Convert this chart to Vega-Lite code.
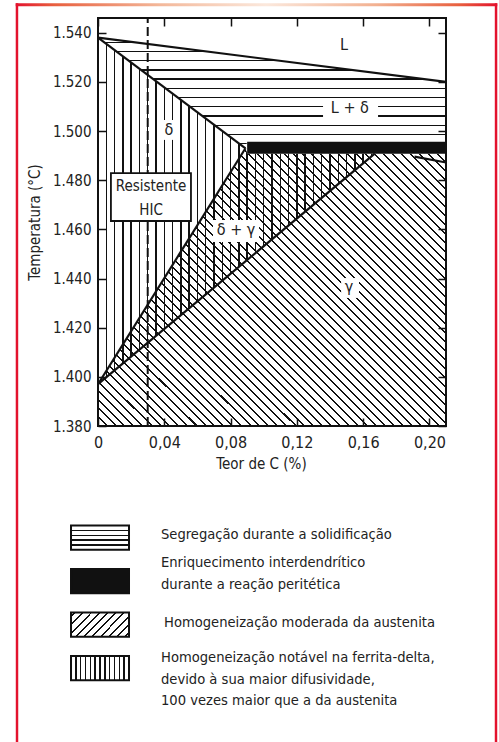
{
"$schema": "https://vega.github.io/schema/vega-lite/v6.json",
"background": "white",
"padding": {"left": 15, "top": 3, "right": 0, "bottom": 0},
"spacing": 0,
"config": {
  "font": "Liberation Sans Narrow, DejaVu Sans Condensed, Roboto Condensed, Roboto, sans-serif",
  "view": {"stroke": null},
  "axis": {"labelFontSize": 15, "labelColor": "#222", "titleFontSize": 15, "titleFontWeight": "normal", "titleColor": "#222"}
},
"datasets": {
  "areaA": [{"c":0,"t":1538,"b":1397},{"c":0.089,"t":1493,"b":1447},{"c":0.09,"t":1490.8,"b":1447.6},{"c":0.167,"t":1490.8,"b":1490.8}],
  "areaB": [{"c":0,"t":1397,"b":1380},{"c":0.089,"t":1493,"b":1380},{"c":0.09,"t":1490.8,"b":1380},{"c":0.21,"t":1490.8,"b":1380}],
  "areaC": [{"c":0,"t":1538,"b":1538},{"c":0.089,"t":1530.4,"b":1493},{"c":0.09,"t":1530.3,"b":1495.6},{"c":0.21,"t":1520,"b":1495.6}],
  "band": [{"c":0.09,"c2":0.21,"t":1490.8,"t2":1495.6}],
  "lines": [
    {"seg":"liq","c":0,"t":1538},{"seg":"liq","c":0.21,"t":1520},
    {"seg":"sol","c":0,"t":1538},{"seg":"sol","c":0.089,"t":1493},
    {"seg":"solv","c":0,"t":1397},{"seg":"solv","c":0.089,"t":1493},
    {"seg":"gam","c":0,"t":1397},{"seg":"gam","c":0.167,"t":1490.8},
    {"seg":"tail","c":0.191,"t":1489.6},{"seg":"tail","c":0.21,"t":1487.2}
  ],
  "dash": [{"c":0.03,"t":1380,"t2":1546}],
  "hic": [{"c":0.0078,"c2":0.0561,"t":1463.4,"t2":1482.9}],
  "hicText": [{"label":"Resistente","c":0.032,"t":1477.6},{"label":"HIC","c":0.032,"t":1467.9}],
  "labelBoxes": [
    {"c":0.1358,"c2":0.169,"t":1505.3,"t2":1513.4},
    {"c":0.038,"c2":0.048,"t":1496.4,"t2":1504.5},
    {"c":0.0694,"c2":0.0972,"t":1454.9,"t2":1463.8},
    {"c":0.1467,"c2":0.1575,"t":1432.1,"t2":1440.2}
  ],
  "labels": [
    {"label":"L","c":0.1485,"t":1535},
    {"label":"L + δ","c":0.152,"t":1509.4},
    {"label":"δ","c":0.0428,"t":1500.4},
    {"label":"δ + γ","c":0.0833,"t":1459.7},
    {"label":"γ","c":0.1515,"t":1436.5}
  ],
  "frame": [{"c":0,"c2":0.21,"t":1380,"t2":1546}],
  "redSides": [{"c":-0.04965,"c2":-0.04815,"t":1552.0,"t2":1349.9},{"c":0.23945,"c2":0.24095,"t":1552.0,"t2":1349.9}],
  "redTop": [{"c":-0.04965,"c2":0.24095,"t":1552.0,"t2":1550.8}],
  "legend": [
    {"item":1,"label":"Segregação durante a solidificação"},
    {"item":2,"label":"Enriquecimento interdendrítico\ndurante a reação peritética"},
    {"item":3,"label":"Homogeneização moderada da austenita"},
    {"item":4,"label":"Homogeneização notável na ferrita-delta,\ndevido à sua maior difusividade,\n100 vezes maior que a da austenita"}
  ]
},
"vconcat": [
{
  "width": 348,
  "height": 408,
  "encoding": {
    "x": {"field":"c","type":"quantitative","scale":{"domain":[0,0.21],"nice":false,"zero":false},
      "axis": {"values":[0,0.04,0.08,0.12,0.16,0.2],"labelExpr":"datum.value == 0 ? '0' : replace(format(datum.value, '.2f'), '.', ',')","title":"Teor de C (%)","titleX":163,"labelFontSize":16,"domain":false,"ticks":false,"grid":true,"gridDash":[8,392],"gridColor":"#111","gridWidth":1.5,"gridOpacity":1,"labelPadding":8,"titlePadding":6,"labelFlush":false,"labelOverlap":false,"zindex":2}},
    "y": {"field":"t","type":"quantitative","scale":{"domain":[1380,1546],"nice":false,"zero":false},
      "axis": {"values":[1380,1400,1420,1440,1460,1480,1500,1520,1540],"labelExpr":"replace(format(datum.value, ','), ',', '.')","title":"Temperatura (°C)","domain":false,"ticks":false,"grid":true,"gridDash":[8,332],"gridColor":"#111","gridWidth":1.5,"gridOpacity":1,"labelPadding":7,"titlePadding":10,"labelFlush":false,"labelOverlap":false,"zindex":2}}
  },
  "layer": [
    {"data":{"name":"areaA"},
     "mark":{"type":"area","fill":{"gradient":"linear","x1":0,"y1":0,"x2":1,"y2":0,"stops":[
      {"offset":0,"color":"#fff"},
      {"offset":0.0274,"color":"#fff"},{"offset":0.0274,"color":"#111"},{"offset":0.0324,"color":"#111"},{"offset":0.0324,"color":"#fff"},
      {"offset":0.0574,"color":"#fff"},{"offset":0.0574,"color":"#111"},{"offset":0.0624,"color":"#111"},{"offset":0.0624,"color":"#fff"},
      {"offset":0.0873,"color":"#fff"},{"offset":0.0873,"color":"#111"},{"offset":0.0923,"color":"#111"},{"offset":0.0923,"color":"#fff"},
      {"offset":0.1173,"color":"#fff"},{"offset":0.1173,"color":"#111"},{"offset":0.1223,"color":"#111"},{"offset":0.1223,"color":"#fff"},
      {"offset":0.1472,"color":"#fff"},{"offset":0.1472,"color":"#111"},{"offset":0.1522,"color":"#111"},{"offset":0.1522,"color":"#fff"},
      {"offset":0.1771,"color":"#fff"},{"offset":0.1771,"color":"#111"},{"offset":0.1821,"color":"#111"},{"offset":0.1821,"color":"#fff"},
      {"offset":0.2071,"color":"#fff"},{"offset":0.2071,"color":"#111"},{"offset":0.2121,"color":"#111"},{"offset":0.2121,"color":"#fff"},
      {"offset":0.2370,"color":"#fff"},{"offset":0.2370,"color":"#111"},{"offset":0.2420,"color":"#111"},{"offset":0.2420,"color":"#fff"},
      {"offset":0.2670,"color":"#fff"},{"offset":0.2670,"color":"#111"},{"offset":0.2720,"color":"#111"},{"offset":0.2720,"color":"#fff"},
      {"offset":0.2969,"color":"#fff"},{"offset":0.2969,"color":"#111"},{"offset":0.3019,"color":"#111"},{"offset":0.3019,"color":"#fff"},
      {"offset":0.3268,"color":"#fff"},{"offset":0.3268,"color":"#111"},{"offset":0.3318,"color":"#111"},{"offset":0.3318,"color":"#fff"},
      {"offset":0.3568,"color":"#fff"},{"offset":0.3568,"color":"#111"},{"offset":0.3618,"color":"#111"},{"offset":0.3618,"color":"#fff"},
      {"offset":0.3867,"color":"#fff"},{"offset":0.3867,"color":"#111"},{"offset":0.3917,"color":"#111"},{"offset":0.3917,"color":"#fff"},
      {"offset":0.4167,"color":"#fff"},{"offset":0.4167,"color":"#111"},{"offset":0.4217,"color":"#111"},{"offset":0.4217,"color":"#fff"},
      {"offset":0.4466,"color":"#fff"},{"offset":0.4466,"color":"#111"},{"offset":0.4516,"color":"#111"},{"offset":0.4516,"color":"#fff"},
      {"offset":0.4765,"color":"#fff"},{"offset":0.4765,"color":"#111"},{"offset":0.4815,"color":"#111"},{"offset":0.4815,"color":"#fff"},
      {"offset":0.5065,"color":"#fff"},{"offset":0.5065,"color":"#111"},{"offset":0.5115,"color":"#111"},{"offset":0.5115,"color":"#fff"},
      {"offset":0.5364,"color":"#fff"},{"offset":0.5364,"color":"#111"},{"offset":0.5414,"color":"#111"},{"offset":0.5414,"color":"#fff"},
      {"offset":0.5664,"color":"#fff"},{"offset":0.5664,"color":"#111"},{"offset":0.5714,"color":"#111"},{"offset":0.5714,"color":"#fff"},
      {"offset":0.5963,"color":"#fff"},{"offset":0.5963,"color":"#111"},{"offset":0.6013,"color":"#111"},{"offset":0.6013,"color":"#fff"},
      {"offset":0.6262,"color":"#fff"},{"offset":0.6262,"color":"#111"},{"offset":0.6312,"color":"#111"},{"offset":0.6312,"color":"#fff"},
      {"offset":0.6562,"color":"#fff"},{"offset":0.6562,"color":"#111"},{"offset":0.6612,"color":"#111"},{"offset":0.6612,"color":"#fff"},
      {"offset":0.6861,"color":"#fff"},{"offset":0.6861,"color":"#111"},{"offset":0.6911,"color":"#111"},{"offset":0.6911,"color":"#fff"},
      {"offset":0.7161,"color":"#fff"},{"offset":0.7161,"color":"#111"},{"offset":0.7211,"color":"#111"},{"offset":0.7211,"color":"#fff"},
      {"offset":0.7460,"color":"#fff"},{"offset":0.7460,"color":"#111"},{"offset":0.7510,"color":"#111"},{"offset":0.7510,"color":"#fff"},
      {"offset":0.7759,"color":"#fff"},{"offset":0.7759,"color":"#111"},{"offset":0.7809,"color":"#111"},{"offset":0.7809,"color":"#fff"},
      {"offset":0.8059,"color":"#fff"},{"offset":0.8059,"color":"#111"},{"offset":0.8109,"color":"#111"},{"offset":0.8109,"color":"#fff"},
      {"offset":0.8358,"color":"#fff"},{"offset":0.8358,"color":"#111"},{"offset":0.8408,"color":"#111"},{"offset":0.8408,"color":"#fff"},
      {"offset":0.8658,"color":"#fff"},{"offset":0.8658,"color":"#111"},{"offset":0.8708,"color":"#111"},{"offset":0.8708,"color":"#fff"},
      {"offset":0.8957,"color":"#fff"},{"offset":0.8957,"color":"#111"},{"offset":0.9007,"color":"#111"},{"offset":0.9007,"color":"#fff"},
      {"offset":0.9256,"color":"#fff"},{"offset":0.9256,"color":"#111"},{"offset":0.9306,"color":"#111"},{"offset":0.9306,"color":"#fff"},
      {"offset":0.9556,"color":"#fff"},{"offset":0.9556,"color":"#111"},{"offset":0.9606,"color":"#111"},{"offset":0.9606,"color":"#fff"},
      {"offset":0.9855,"color":"#fff"},{"offset":0.9855,"color":"#111"},{"offset":0.9905,"color":"#111"},{"offset":0.9905,"color":"#fff"},
      {"offset":1,"color":"#fff"}]}},
     "encoding":{"y2":{"field":"b"}}},
    {"data":{"name":"areaB"},
     "mark":{"type":"area","fill":{"gradient":"linear","x1":0,"y1":1,"x2":1.0983,"y2":0.1232,"stops":[
      {"offset":0,"color":"transparent"},
      {"offset":0.0128,"color":"transparent"},{"offset":0.0128,"color":"#111"},{"offset":0.0160,"color":"#111"},{"offset":0.0160,"color":"transparent"},
      {"offset":0.0272,"color":"transparent"},{"offset":0.0272,"color":"#111"},{"offset":0.0304,"color":"#111"},{"offset":0.0304,"color":"transparent"},
      {"offset":0.0415,"color":"transparent"},{"offset":0.0415,"color":"#111"},{"offset":0.0447,"color":"#111"},{"offset":0.0447,"color":"transparent"},
      {"offset":0.0559,"color":"transparent"},{"offset":0.0559,"color":"#111"},{"offset":0.0591,"color":"#111"},{"offset":0.0591,"color":"transparent"},
      {"offset":0.0703,"color":"transparent"},{"offset":0.0703,"color":"#111"},{"offset":0.0735,"color":"#111"},{"offset":0.0735,"color":"transparent"},
      {"offset":0.0847,"color":"transparent"},{"offset":0.0847,"color":"#111"},{"offset":0.0879,"color":"#111"},{"offset":0.0879,"color":"transparent"},
      {"offset":0.0991,"color":"transparent"},{"offset":0.0991,"color":"#111"},{"offset":0.1023,"color":"#111"},{"offset":0.1023,"color":"transparent"},
      {"offset":0.1134,"color":"transparent"},{"offset":0.1134,"color":"#111"},{"offset":0.1166,"color":"#111"},{"offset":0.1166,"color":"transparent"},
      {"offset":0.1278,"color":"transparent"},{"offset":0.1278,"color":"#111"},{"offset":0.1310,"color":"#111"},{"offset":0.1310,"color":"transparent"},
      {"offset":0.1422,"color":"transparent"},{"offset":0.1422,"color":"#111"},{"offset":0.1454,"color":"#111"},{"offset":0.1454,"color":"transparent"},
      {"offset":0.1566,"color":"transparent"},{"offset":0.1566,"color":"#111"},{"offset":0.1598,"color":"#111"},{"offset":0.1598,"color":"transparent"},
      {"offset":0.1710,"color":"transparent"},{"offset":0.1710,"color":"#111"},{"offset":0.1742,"color":"#111"},{"offset":0.1742,"color":"transparent"},
      {"offset":0.1853,"color":"transparent"},{"offset":0.1853,"color":"#111"},{"offset":0.1885,"color":"#111"},{"offset":0.1885,"color":"transparent"},
      {"offset":0.1997,"color":"transparent"},{"offset":0.1997,"color":"#111"},{"offset":0.2029,"color":"#111"},{"offset":0.2029,"color":"transparent"},
      {"offset":0.2141,"color":"transparent"},{"offset":0.2141,"color":"#111"},{"offset":0.2173,"color":"#111"},{"offset":0.2173,"color":"transparent"},
      {"offset":0.2285,"color":"transparent"},{"offset":0.2285,"color":"#111"},{"offset":0.2317,"color":"#111"},{"offset":0.2317,"color":"transparent"},
      {"offset":0.2429,"color":"transparent"},{"offset":0.2429,"color":"#111"},{"offset":0.2461,"color":"#111"},{"offset":0.2461,"color":"transparent"},
      {"offset":0.2572,"color":"transparent"},{"offset":0.2572,"color":"#111"},{"offset":0.2604,"color":"#111"},{"offset":0.2604,"color":"transparent"},
      {"offset":0.2716,"color":"transparent"},{"offset":0.2716,"color":"#111"},{"offset":0.2748,"color":"#111"},{"offset":0.2748,"color":"transparent"},
      {"offset":0.2860,"color":"transparent"},{"offset":0.2860,"color":"#111"},{"offset":0.2892,"color":"#111"},{"offset":0.2892,"color":"transparent"},
      {"offset":0.3004,"color":"transparent"},{"offset":0.3004,"color":"#111"},{"offset":0.3036,"color":"#111"},{"offset":0.3036,"color":"transparent"},
      {"offset":0.3148,"color":"transparent"},{"offset":0.3148,"color":"#111"},{"offset":0.3180,"color":"#111"},{"offset":0.3180,"color":"transparent"},
      {"offset":0.3291,"color":"transparent"},{"offset":0.3291,"color":"#111"},{"offset":0.3323,"color":"#111"},{"offset":0.3323,"color":"transparent"},
      {"offset":0.3435,"color":"transparent"},{"offset":0.3435,"color":"#111"},{"offset":0.3467,"color":"#111"},{"offset":0.3467,"color":"transparent"},
      {"offset":0.3579,"color":"transparent"},{"offset":0.3579,"color":"#111"},{"offset":0.3611,"color":"#111"},{"offset":0.3611,"color":"transparent"},
      {"offset":0.3723,"color":"transparent"},{"offset":0.3723,"color":"#111"},{"offset":0.3755,"color":"#111"},{"offset":0.3755,"color":"transparent"},
      {"offset":0.3867,"color":"transparent"},{"offset":0.3867,"color":"#111"},{"offset":0.3899,"color":"#111"},{"offset":0.3899,"color":"transparent"},
      {"offset":0.4010,"color":"transparent"},{"offset":0.4010,"color":"#111"},{"offset":0.4042,"color":"#111"},{"offset":0.4042,"color":"transparent"},
      {"offset":0.4154,"color":"transparent"},{"offset":0.4154,"color":"#111"},{"offset":0.4186,"color":"#111"},{"offset":0.4186,"color":"transparent"},
      {"offset":0.4298,"color":"transparent"},{"offset":0.4298,"color":"#111"},{"offset":0.4330,"color":"#111"},{"offset":0.4330,"color":"transparent"},
      {"offset":0.4442,"color":"transparent"},{"offset":0.4442,"color":"#111"},{"offset":0.4474,"color":"#111"},{"offset":0.4474,"color":"transparent"},
      {"offset":0.4586,"color":"transparent"},{"offset":0.4586,"color":"#111"},{"offset":0.4618,"color":"#111"},{"offset":0.4618,"color":"transparent"},
      {"offset":0.4729,"color":"transparent"},{"offset":0.4729,"color":"#111"},{"offset":0.4761,"color":"#111"},{"offset":0.4761,"color":"transparent"},
      {"offset":0.4873,"color":"transparent"},{"offset":0.4873,"color":"#111"},{"offset":0.4905,"color":"#111"},{"offset":0.4905,"color":"transparent"},
      {"offset":0.5017,"color":"transparent"},{"offset":0.5017,"color":"#111"},{"offset":0.5049,"color":"#111"},{"offset":0.5049,"color":"transparent"},
      {"offset":0.5161,"color":"transparent"},{"offset":0.5161,"color":"#111"},{"offset":0.5193,"color":"#111"},{"offset":0.5193,"color":"transparent"},
      {"offset":0.5305,"color":"transparent"},{"offset":0.5305,"color":"#111"},{"offset":0.5337,"color":"#111"},{"offset":0.5337,"color":"transparent"},
      {"offset":0.5448,"color":"transparent"},{"offset":0.5448,"color":"#111"},{"offset":0.5480,"color":"#111"},{"offset":0.5480,"color":"transparent"},
      {"offset":0.5592,"color":"transparent"},{"offset":0.5592,"color":"#111"},{"offset":0.5624,"color":"#111"},{"offset":0.5624,"color":"transparent"},
      {"offset":0.5736,"color":"transparent"},{"offset":0.5736,"color":"#111"},{"offset":0.5768,"color":"#111"},{"offset":0.5768,"color":"transparent"},
      {"offset":0.5880,"color":"transparent"},{"offset":0.5880,"color":"#111"},{"offset":0.5912,"color":"#111"},{"offset":0.5912,"color":"transparent"},
      {"offset":0.6024,"color":"transparent"},{"offset":0.6024,"color":"#111"},{"offset":0.6056,"color":"#111"},{"offset":0.6056,"color":"transparent"},
      {"offset":0.6167,"color":"transparent"},{"offset":0.6167,"color":"#111"},{"offset":0.6199,"color":"#111"},{"offset":0.6199,"color":"transparent"},
      {"offset":0.6311,"color":"transparent"},{"offset":0.6311,"color":"#111"},{"offset":0.6343,"color":"#111"},{"offset":0.6343,"color":"transparent"},
      {"offset":0.6455,"color":"transparent"},{"offset":0.6455,"color":"#111"},{"offset":0.6487,"color":"#111"},{"offset":0.6487,"color":"transparent"},
      {"offset":0.6599,"color":"transparent"},{"offset":0.6599,"color":"#111"},{"offset":0.6631,"color":"#111"},{"offset":0.6631,"color":"transparent"},
      {"offset":0.6743,"color":"transparent"},{"offset":0.6743,"color":"#111"},{"offset":0.6775,"color":"#111"},{"offset":0.6775,"color":"transparent"},
      {"offset":0.6886,"color":"transparent"},{"offset":0.6886,"color":"#111"},{"offset":0.6918,"color":"#111"},{"offset":0.6918,"color":"transparent"},
      {"offset":0.7030,"color":"transparent"},{"offset":0.7030,"color":"#111"},{"offset":0.7062,"color":"#111"},{"offset":0.7062,"color":"transparent"},
      {"offset":0.7174,"color":"transparent"},{"offset":0.7174,"color":"#111"},{"offset":0.7206,"color":"#111"},{"offset":0.7206,"color":"transparent"},
      {"offset":0.7318,"color":"transparent"},{"offset":0.7318,"color":"#111"},{"offset":0.7350,"color":"#111"},{"offset":0.7350,"color":"transparent"},
      {"offset":0.7462,"color":"transparent"},{"offset":0.7462,"color":"#111"},{"offset":0.7494,"color":"#111"},{"offset":0.7494,"color":"transparent"},
      {"offset":0.7605,"color":"transparent"},{"offset":0.7605,"color":"#111"},{"offset":0.7637,"color":"#111"},{"offset":0.7637,"color":"transparent"},
      {"offset":0.7749,"color":"transparent"},{"offset":0.7749,"color":"#111"},{"offset":0.7781,"color":"#111"},{"offset":0.7781,"color":"transparent"},
      {"offset":0.7893,"color":"transparent"},{"offset":0.7893,"color":"#111"},{"offset":0.7925,"color":"#111"},{"offset":0.7925,"color":"transparent"},
      {"offset":0.8037,"color":"transparent"},{"offset":0.8037,"color":"#111"},{"offset":0.8069,"color":"#111"},{"offset":0.8069,"color":"transparent"},
      {"offset":0.8181,"color":"transparent"},{"offset":0.8181,"color":"#111"},{"offset":0.8213,"color":"#111"},{"offset":0.8213,"color":"transparent"},
      {"offset":0.8324,"color":"transparent"},{"offset":0.8324,"color":"#111"},{"offset":0.8356,"color":"#111"},{"offset":0.8356,"color":"transparent"},
      {"offset":0.8468,"color":"transparent"},{"offset":0.8468,"color":"#111"},{"offset":0.8500,"color":"#111"},{"offset":0.8500,"color":"transparent"},
      {"offset":0.8612,"color":"transparent"},{"offset":0.8612,"color":"#111"},{"offset":0.8644,"color":"#111"},{"offset":0.8644,"color":"transparent"},
      {"offset":0.8756,"color":"transparent"},{"offset":0.8756,"color":"#111"},{"offset":0.8788,"color":"#111"},{"offset":0.8788,"color":"transparent"},
      {"offset":0.8900,"color":"transparent"},{"offset":0.8900,"color":"#111"},{"offset":0.8932,"color":"#111"},{"offset":0.8932,"color":"transparent"},
      {"offset":0.9043,"color":"transparent"},{"offset":0.9043,"color":"#111"},{"offset":0.9075,"color":"#111"},{"offset":0.9075,"color":"transparent"},
      {"offset":0.9187,"color":"transparent"},{"offset":0.9187,"color":"#111"},{"offset":0.9219,"color":"#111"},{"offset":0.9219,"color":"transparent"},
      {"offset":0.9331,"color":"transparent"},{"offset":0.9331,"color":"#111"},{"offset":0.9363,"color":"#111"},{"offset":0.9363,"color":"transparent"},
      {"offset":0.9475,"color":"transparent"},{"offset":0.9475,"color":"#111"},{"offset":0.9507,"color":"#111"},{"offset":0.9507,"color":"transparent"},
      {"offset":0.9619,"color":"transparent"},{"offset":0.9619,"color":"#111"},{"offset":0.9651,"color":"#111"},{"offset":0.9651,"color":"transparent"},
      {"offset":0.9762,"color":"transparent"},{"offset":0.9762,"color":"#111"},{"offset":0.9794,"color":"#111"},{"offset":0.9794,"color":"transparent"},
      {"offset":0.9906,"color":"transparent"},{"offset":0.9906,"color":"#111"},{"offset":0.9938,"color":"#111"},{"offset":0.9938,"color":"transparent"},
      {"offset":1,"color":"transparent"}]}},
     "encoding":{"y2":{"field":"b"}}},
    {"data":{"name":"areaC"},
     "mark":{"type":"area","fill":{"gradient":"linear","x1":0,"y1":0,"x2":0,"y2":1,"stops":[
      {"offset":0,"color":"#fff"},
      {"offset":0.0357,"color":"#fff"},{"offset":0.0357,"color":"#111"},{"offset":0.0477,"color":"#111"},{"offset":0.0477,"color":"#fff"},
      {"offset":0.1190,"color":"#fff"},{"offset":0.1190,"color":"#111"},{"offset":0.1310,"color":"#111"},{"offset":0.1310,"color":"#fff"},
      {"offset":0.2023,"color":"#fff"},{"offset":0.2023,"color":"#111"},{"offset":0.2143,"color":"#111"},{"offset":0.2143,"color":"#fff"},
      {"offset":0.2857,"color":"#fff"},{"offset":0.2857,"color":"#111"},{"offset":0.2977,"color":"#111"},{"offset":0.2977,"color":"#fff"},
      {"offset":0.3690,"color":"#fff"},{"offset":0.3690,"color":"#111"},{"offset":0.3810,"color":"#111"},{"offset":0.3810,"color":"#fff"},
      {"offset":0.4523,"color":"#fff"},{"offset":0.4523,"color":"#111"},{"offset":0.4643,"color":"#111"},{"offset":0.4643,"color":"#fff"},
      {"offset":0.5357,"color":"#fff"},{"offset":0.5357,"color":"#111"},{"offset":0.5477,"color":"#111"},{"offset":0.5477,"color":"#fff"},
      {"offset":0.6190,"color":"#fff"},{"offset":0.6190,"color":"#111"},{"offset":0.6310,"color":"#111"},{"offset":0.6310,"color":"#fff"},
      {"offset":0.7023,"color":"#fff"},{"offset":0.7023,"color":"#111"},{"offset":0.7143,"color":"#111"},{"offset":0.7143,"color":"#fff"},
      {"offset":0.7857,"color":"#fff"},{"offset":0.7857,"color":"#111"},{"offset":0.7977,"color":"#111"},{"offset":0.7977,"color":"#fff"},
      {"offset":0.8690,"color":"#fff"},{"offset":0.8690,"color":"#111"},{"offset":0.8810,"color":"#111"},{"offset":0.8810,"color":"#fff"},
      {"offset":0.9523,"color":"#fff"},{"offset":0.9523,"color":"#111"},{"offset":0.9643,"color":"#111"},{"offset":0.9643,"color":"#fff"},
      {"offset":1,"color":"#fff"}]}},
     "encoding":{"y2":{"field":"b"}}},
    {"data":{"name":"band"},"mark":{"type":"rect","fill":"#111"},"encoding":{"x2":{"field":"c2"},"y2":{"field":"t2"}}},
    {"data":{"name":"lines"},"mark":{"type":"line","stroke":"#111","strokeWidth":2.2},"encoding":{"detail":{"field":"seg"}}},
    {"data":{"name":"dash"},"mark":{"type":"rule","stroke":"#111","strokeWidth":2,"strokeDash":[9,4]},"encoding":{"y2":{"field":"t2"}}},
    {"data":{"name":"labelBoxes"},"mark":{"type":"rect","fill":"#fff"},"encoding":{"x2":{"field":"c2"},"y2":{"field":"t2"}}},
    {"data":{"name":"labels"},"mark":{"type":"text","fontSize":16,"fill":"#222"},"encoding":{"text":{"field":"label"}}},
    {"data":{"name":"hic"},"mark":{"type":"rect","fill":"#fff","stroke":"#111","strokeWidth":1.8},"encoding":{"x2":{"field":"c2"},"y2":{"field":"t2"}}},
    {"data":{"name":"hicText"},"mark":{"type":"text","fontSize":15,"fill":"#222"},"encoding":{"text":{"field":"label"}}},
    {"data":{"name":"frame"},"mark":{"type":"rect","filled":false,"stroke":"#111","strokeWidth":2},"encoding":{"x2":{"field":"c2"},"y2":{"field":"t2"}}},
    {"data":{"name":"redSides"},"mark":{"type":"rect","fill":"#e3122d"},"encoding":{"x2":{"field":"c2"},"y2":{"field":"t2"}}},
    {"data":{"name":"redTop"},"mark":{"type":"rect","fill":{"gradient":"linear","x1":0,"y1":0,"x2":1,"y2":0,"stops":[
      {"offset":0,"color":"#e3122d"},{"offset":0.08,"color":"#e8603f"},{"offset":0.3,"color":"#f3b89a"},{"offset":0.52,"color":"#fbe8dc"},{"offset":0.75,"color":"#f2b090"},{"offset":0.92,"color":"#e8603f"},{"offset":1,"color":"#e3122d"}]}},
     "encoding":{"x2":{"field":"c2"},"y2":{"field":"t2"}}}
  ]
},
{
  "width": 398,
  "height": 242,
  "data": {"name": "legend"},
  "layer": [
    {"data":{"values":[{}]},"mark":{"type":"rect","fill":"#e3122d"},
     "encoding":{"x":{"datum":-20.66,"type":"quantitative","scale":{"domain":[0,100],"nice":false,"zero":false},"axis":null},"x2":{"datum":-20.04}}},
    {"data":{"values":[{}]},"mark":{"type":"rect","fill":"#e3122d"},
     "encoding":{"x":{"datum":99.69,"type":"quantitative","scale":{"domain":[0,100],"nice":false,"zero":false},"axis":null},"x2":{"datum":100.31}}},
    {"transform":[{"filter":"datum.item == 1"}],
     "mark":{"type":"rect","stroke":"#111","strokeWidth":2,"fill":{"gradient":"linear","x1":0,"y1":0,"x2":0,"y2":1,"stops":[
      {"offset":0,"color":"#fff"},
      {"offset":0.175,"color":"#fff"},{"offset":0.175,"color":"#111"},{"offset":0.225,"color":"#111"},{"offset":0.225,"color":"#fff"},
      {"offset":0.375,"color":"#fff"},{"offset":0.375,"color":"#111"},{"offset":0.425,"color":"#111"},{"offset":0.425,"color":"#fff"},
      {"offset":0.575,"color":"#fff"},{"offset":0.575,"color":"#111"},{"offset":0.625,"color":"#111"},{"offset":0.625,"color":"#fff"},
      {"offset":0.775,"color":"#fff"},{"offset":0.775,"color":"#111"},{"offset":0.825,"color":"#111"},{"offset":0.825,"color":"#fff"},
      {"offset":1,"color":"#fff"}]}},
     "encoding":{"y":{"field":"item","type":"ordinal","axis":null,"scale":{"paddingInner":0.44,"paddingOuter":1.034,"align":0.292}},
                 "x":{"datum":-6.78,"type":"quantitative","scale":{"domain":[0,100],"nice":false,"zero":false},"axis":null},"x2":{"datum":7.79}}},
    {"transform":[{"filter":"datum.item == 2"}],
     "mark":{"type":"rect","stroke":"#111","strokeWidth":2,"fill":"#111"},
     "encoding":{"y":{"field":"item","type":"ordinal","axis":null,"scale":{"paddingInner":0.44,"paddingOuter":1.034,"align":0.292}},
                 "x":{"datum":-6.78,"type":"quantitative","scale":{"domain":[0,100],"nice":false,"zero":false},"axis":null},"x2":{"datum":7.79}}},
    {"transform":[{"filter":"datum.item == 3"}],
     "mark":{"type":"rect","stroke":"#111","strokeWidth":2,"fill":{"gradient":"linear","x1":0,"y1":0,"x2":1.2071,"y2":0.4995,"stops":[
      {"offset":0,"color":"#fff"},
      {"offset":0.038,"color":"#fff"},{"offset":0.038,"color":"#111"},{"offset":0.062,"color":"#111"},{"offset":0.062,"color":"#fff"},
      {"offset":0.138,"color":"#fff"},{"offset":0.138,"color":"#111"},{"offset":0.162,"color":"#111"},{"offset":0.162,"color":"#fff"},
      {"offset":0.238,"color":"#fff"},{"offset":0.238,"color":"#111"},{"offset":0.262,"color":"#111"},{"offset":0.262,"color":"#fff"},
      {"offset":0.338,"color":"#fff"},{"offset":0.338,"color":"#111"},{"offset":0.362,"color":"#111"},{"offset":0.362,"color":"#fff"},
      {"offset":0.438,"color":"#fff"},{"offset":0.438,"color":"#111"},{"offset":0.462,"color":"#111"},{"offset":0.462,"color":"#fff"},
      {"offset":0.538,"color":"#fff"},{"offset":0.538,"color":"#111"},{"offset":0.562,"color":"#111"},{"offset":0.562,"color":"#fff"},
      {"offset":0.638,"color":"#fff"},{"offset":0.638,"color":"#111"},{"offset":0.662,"color":"#111"},{"offset":0.662,"color":"#fff"},
      {"offset":0.738,"color":"#fff"},{"offset":0.738,"color":"#111"},{"offset":0.762,"color":"#111"},{"offset":0.762,"color":"#fff"},
      {"offset":0.838,"color":"#fff"},{"offset":0.838,"color":"#111"},{"offset":0.862,"color":"#111"},{"offset":0.862,"color":"#fff"},
      {"offset":0.938,"color":"#fff"},{"offset":0.938,"color":"#111"},{"offset":0.962,"color":"#111"},{"offset":0.962,"color":"#fff"},
      {"offset":1,"color":"#fff"}]}},
     "encoding":{"y":{"field":"item","type":"ordinal","axis":null,"scale":{"paddingInner":0.44,"paddingOuter":1.034,"align":0.292}},
                 "x":{"datum":-6.78,"type":"quantitative","scale":{"domain":[0,100],"nice":false,"zero":false},"axis":null},"x2":{"datum":7.79}}},
    {"transform":[{"filter":"datum.item == 4"}],
     "mark":{"type":"rect","stroke":"#111","strokeWidth":2,"fill":{"gradient":"linear","x1":0,"y1":0,"x2":1,"y2":0,"stops":[
      {"offset":0,"color":"#fff"},
      {"offset":0.0713,"color":"#fff"},{"offset":0.0713,"color":"#111"},{"offset":0.0953,"color":"#111"},{"offset":0.0953,"color":"#fff"},
      {"offset":0.1547,"color":"#fff"},{"offset":0.1547,"color":"#111"},{"offset":0.1787,"color":"#111"},{"offset":0.1787,"color":"#fff"},
      {"offset":0.238,"color":"#fff"},{"offset":0.238,"color":"#111"},{"offset":0.262,"color":"#111"},{"offset":0.262,"color":"#fff"},
      {"offset":0.3213,"color":"#fff"},{"offset":0.3213,"color":"#111"},{"offset":0.3453,"color":"#111"},{"offset":0.3453,"color":"#fff"},
      {"offset":0.4047,"color":"#fff"},{"offset":0.4047,"color":"#111"},{"offset":0.4287,"color":"#111"},{"offset":0.4287,"color":"#fff"},
      {"offset":0.488,"color":"#fff"},{"offset":0.488,"color":"#111"},{"offset":0.512,"color":"#111"},{"offset":0.512,"color":"#fff"},
      {"offset":0.5713,"color":"#fff"},{"offset":0.5713,"color":"#111"},{"offset":0.5953,"color":"#111"},{"offset":0.5953,"color":"#fff"},
      {"offset":0.6547,"color":"#fff"},{"offset":0.6547,"color":"#111"},{"offset":0.6787,"color":"#111"},{"offset":0.6787,"color":"#fff"},
      {"offset":0.738,"color":"#fff"},{"offset":0.738,"color":"#111"},{"offset":0.762,"color":"#111"},{"offset":0.762,"color":"#fff"},
      {"offset":0.8213,"color":"#fff"},{"offset":0.8213,"color":"#111"},{"offset":0.8453,"color":"#111"},{"offset":0.8453,"color":"#fff"},
      {"offset":0.9047,"color":"#fff"},{"offset":0.9047,"color":"#111"},{"offset":0.9287,"color":"#111"},{"offset":0.9287,"color":"#fff"},
      {"offset":1,"color":"#fff"}]}},
     "encoding":{"y":{"field":"item","type":"ordinal","axis":null,"scale":{"paddingInner":0.44,"paddingOuter":1.034,"align":0.292}},
                 "x":{"datum":-6.78,"type":"quantitative","scale":{"domain":[0,100],"nice":false,"zero":false},"axis":null},"x2":{"datum":7.79}}},
    {"transform":[{"filter":"datum.item == 1"}],
     "mark":{"type":"text","align":"left","baseline":"middle","lineBreak":"\n","fontSize":14.6,"lineHeight":21.5,"fill":"#222","dy":-3},
     "encoding":{"y":{"field":"item","type":"ordinal","axis":null,"scale":{"paddingInner":0.44,"paddingOuter":1.034,"align":0.292}},
                 "x":{"datum":15.83,"type":"quantitative","scale":{"domain":[0,100],"nice":false,"zero":false},"axis":null},"text":{"field":"label"}}},
    {"transform":[{"filter":"datum.item == 2"}],
     "mark":{"type":"text","align":"left","baseline":"middle","lineBreak":"\n","fontSize":14.6,"lineHeight":21.5,"fill":"#222","dy":-18},
     "encoding":{"y":{"field":"item","type":"ordinal","axis":null,"scale":{"paddingInner":0.44,"paddingOuter":1.034,"align":0.292}},
                 "x":{"datum":15.83,"type":"quantitative","scale":{"domain":[0,100],"nice":false,"zero":false},"axis":null},"text":{"field":"label"}}},
    {"transform":[{"filter":"datum.item == 3"}],
     "mark":{"type":"text","align":"left","baseline":"middle","lineBreak":"\n","fontSize":14.6,"lineHeight":21.5,"fill":"#222","dy":-2,"dx":3},
     "encoding":{"y":{"field":"item","type":"ordinal","axis":null,"scale":{"paddingInner":0.44,"paddingOuter":1.034,"align":0.292}},
                 "x":{"datum":15.83,"type":"quantitative","scale":{"domain":[0,100],"nice":false,"zero":false},"axis":null},"text":{"field":"label"}}},
    {"transform":[{"filter":"datum.item == 4"}],
     "mark":{"type":"text","align":"left","baseline":"middle","lineBreak":"\n","fontSize":14.6,"lineHeight":21.5,"fill":"#222","dy":-10},
     "encoding":{"y":{"field":"item","type":"ordinal","axis":null,"scale":{"paddingInner":0.44,"paddingOuter":1.034,"align":0.292}},
                 "x":{"datum":15.83,"type":"quantitative","scale":{"domain":[0,100],"nice":false,"zero":false},"axis":null},"text":{"field":"label"}}}
  ]
}
]
}
